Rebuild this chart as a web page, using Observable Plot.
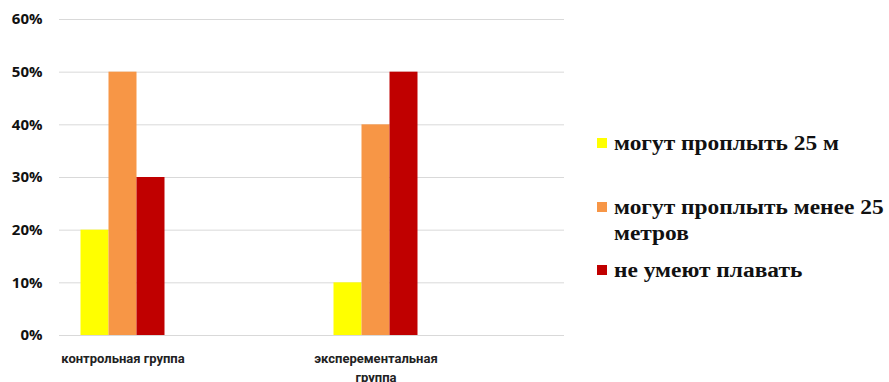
<!DOCTYPE html>
<html>
<head>
<meta charset="utf-8">
<script src="https://cdn.jsdelivr.net/npm/d3@7"></script>
<script src="https://cdn.jsdelivr.net/npm/@observablehq/plot@0.6"></script>
<style>
  html, body { margin: 0; padding: 0; background: #fff; }
  #wrap { position: relative; width: 889px; height: 382px; overflow: hidden; }
  #legend { position: absolute; left: 597px; top: 0; width: 292px; font-family: "Liberation Serif", "Times New Roman", serif; font-weight: bold; font-size: 20px; line-height: 26px; color: #111; }
  .item { position: absolute; left: 0; display: flex; align-items: flex-start; }
  .sw { width: 10px; height: 10px; margin-top: 8px; margin-right: 7px; flex: none; }
  .lbl { width: 242px; transform: scaleX(1.17); transform-origin: 0 0; }
</style>
</head>
<body>
<div id="wrap"><div id="chart"></div><div id="legend"></div></div>
<script>
const groups = ["контрольная группа", "эксперементальная группа"];
const groupLabels = ["контрольная группа", "эксперементальная\nгруппа"];
const series = ["могут проплыть 25 м", "могут проплыть менее 25 метров", "не умеют плавать"];
const colors = ["#FFFF00", "#F79646", "#C00000"];
const controlValues = [0.20, 0.50, 0.30];
const experimentValues = [0.10, 0.40, 0.50];
const yTicks = [0, 0.1, 0.2, 0.3, 0.4, 0.5, 0.6];

const data = [];
series.forEach((s, i) => {
  data.push({group: groups[0], series: s, idx: i, value: controlValues[i]});
  data.push({group: groups[1], series: s, idx: i, value: experimentValues[i]});
});

const barW = 28;
const bandW = 253;
const inset = (bandW - barW) / 2;

const marks = [
  Plot.gridY(yTicks, {stroke: "#d9d9d9", strokeOpacity: 1, strokeWidth: 1}),
  Plot.axisY(yTicks, {tickSize: 0, tickPadding: 17, label: null, tickFormat: d3.format(".0%"), fontSize: 15, fontWeight: "bold", fill: "#111", fontFamily: "Open Sans, sans-serif"}),
  Plot.axisX({tickSize: 0, tickPadding: 15, label: null, lineAnchor: "top", tickFormat: d => groupLabels[groups.indexOf(d)], fontSize: 13, fontWeight: "bold", fill: "#222", fontFamily: "Roboto, sans-serif", lineHeight: 1.4})
];
series.forEach((s, i) => {
  marks.push(Plot.barY(data.filter(d => d.idx === i), {
    x: "group", y: "value", fill: colors[i],
    insetLeft: inset, insetRight: inset, dx: (i - 1) * barW
  }));
});
marks.push(Plot.ruleX([0], {frameAnchor: "left", stroke: "#8c8c8c", strokeWidth: 1}));

const chart = Plot.plot({
  width: 889,
  height: 382,
  marginLeft: 59,
  marginRight: 325,
  marginTop: 19,
  marginBottom: 47,
  style: {background: "#fff", overflow: "visible"},
  x: {domain: groups, range: [122 - bandW / 2, 375 + bandW / 2], padding: 0, axis: null, label: null},
  y: {domain: [0, 0.6], axis: null, label: null},
  marks
});
document.getElementById("chart").appendChild(chart);

const legend = document.getElementById("legend");
const tops = [130, 194, 257];
series.forEach((s, i) => {
  const it = document.createElement("div");
  it.className = "item";
  it.style.top = tops[i] + "px";
  const sw = document.createElement("div");
  sw.className = "sw";
  sw.style.background = colors[i];
  const lb = document.createElement("div");
  lb.className = "lbl";
  lb.textContent = s;
  it.appendChild(sw); it.appendChild(lb);
  legend.appendChild(it);
});
</script>
</body>
</html>
